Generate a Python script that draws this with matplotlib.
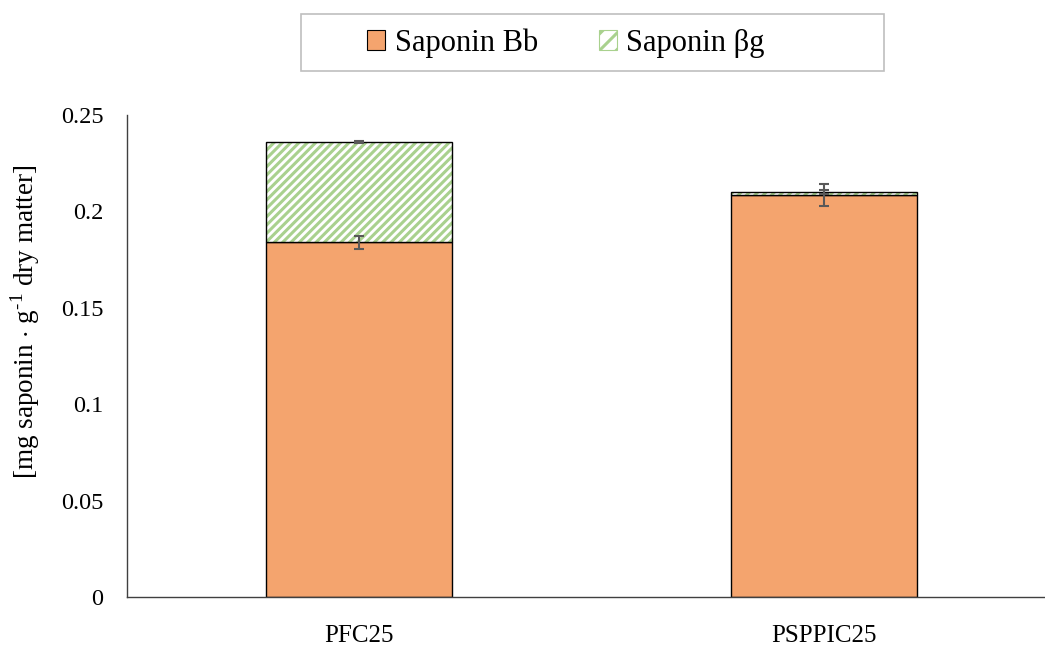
import numpy as np
import matplotlib.pyplot as plt
from matplotlib.patches import Patch, Rectangle

plt.rcParams['font.family'] = ['Liberation Serif', 'DejaVu Serif']
plt.rcParams['hatch.linewidth'] = 2.2
plt.rcParams['mathtext.fontset'] = 'custom'
plt.rcParams['mathtext.rm'] = 'Liberation Serif'

samples = ["PFC25", "PSPPIC25"]
bb_vals = [0.184, 0.2085]
bb_err = [0.0035, 0.0055]
bg_vals = [0.052, 0.0015]
bg_err = [0.0004, 0.001]

orange = "#F4A46E"
green = "#A9D18E"
errc = "#595959"

fig = plt.figure(figsize=(10.45, 6.48), dpi=100)
ax = fig.add_axes([127 / 1045, 1 - 597 / 648, 1 - 127 / 1045, (597 - 115) / 648])

x = np.arange(len(samples))
w = 0.4
bb_top = np.array(bb_vals)

ax.bar(x, bb_vals, w, color=orange, edgecolor="black", linewidth=1.0, zorder=2)
ax.bar(x, bg_vals, w, bottom=bb_top, facecolor="white", edgecolor=green,
       hatch="////", linewidth=0, zorder=2)
ax.bar(x, bg_vals, w, bottom=bb_top, fill=False, edgecolor="black", linewidth=1.0, zorder=3)

ax.errorbar(x, bb_vals, yerr=bb_err, fmt="none", ecolor=errc, elinewidth=1.5,
            capsize=3.8, capthick=1.5, zorder=4)
ax.errorbar(x, bb_top + np.array(bg_vals), yerr=bg_err, fmt="none", ecolor=errc,
            elinewidth=1.5, capsize=3.8, capthick=1.5, zorder=4)

ax.set_xlim(-0.5, 1.475)
ax.set_ylim(0, 0.25)
ax.set_yticks([0, 0.05, 0.1, 0.15, 0.2, 0.25])
ax.set_yticklabels(["0", "0.05", "0.1", "0.15", "0.2", "0.25"])
ax.set_xticks(x)
ax.set_xticklabels(samples)
ax.tick_params(axis="y", length=0, pad=17, labelsize=17.5)
ax.tick_params(axis="x", length=0, pad=20, labelsize=18)

for s in ["top", "right"]:
    ax.spines[s].set_visible(False)
for s in ["left", "bottom"]:
    ax.spines[s].set_color("#404040")
    ax.spines[s].set_linewidth(1.0)

ax.set_ylabel(r"[mg saponin $\cdot$ g$^{\text{-1}}$ dry matter]", fontsize=19.5)
ax.yaxis.set_label_coords(-0.093, 0.57)

# legend: entries without frame, plus a separate box like the Excel legend
handles = [
    Patch(facecolor=orange, edgecolor="black", linewidth=0.8, label="Saponin Bb"),
    Patch(facecolor="white", edgecolor=green, hatch="//", linewidth=0.8, label="Saponin βg"),
]
leg = fig.legend(handles=handles, loc="center", bbox_to_anchor=(566 / 1045, 1 - 43 / 648),
                 ncol=2, fontsize=22, frameon=False, handlelength=0.6,
                 handleheight=0.6, handletextpad=0.3, columnspacing=2.0,
                 borderpad=0, borderaxespad=0)
fig.patches.append(Rectangle((301 / 1045, 1 - 71 / 648), 583 / 1045, 57 / 648,
                             transform=fig.transFigure, fill=False,
                             edgecolor="#BFBFBF", linewidth=1.2))

fig.savefig("out.png", dpi=100)
